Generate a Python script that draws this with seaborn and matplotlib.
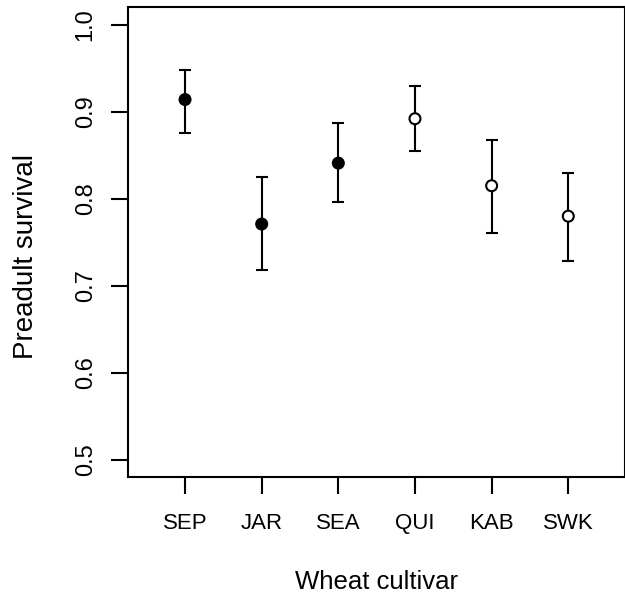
import numpy as np
import pandas as pd
import matplotlib
matplotlib.use("Agg")
import matplotlib.pyplot as plt
import seaborn as sns

# ---- data ----
cultivars = ["SEP", "JAR", "SEA", "QUI", "KAB", "SWK"]
survival = [0.914, 0.771, 0.841, 0.892, 0.815, 0.780]
lower = [0.876, 0.718, 0.796, 0.855, 0.761, 0.729]
upper = [0.948, 0.825, 0.887, 0.930, 0.868, 0.830]
marker_fill = ["filled", "filled", "filled", "open", "open", "open"]
y_ticks = [0.5, 0.6, 0.7, 0.8, 0.9, 1.0]
y_tick_labels = ["0.5", "0.6", "0.7", "0.8", "0.9", "1.0"]

sns.set_style("ticks")
plt.rcParams["font.family"] = ["Liberation Sans", "DejaVu Sans"]
plt.rcParams["text.color"] = "black"
plt.rcParams["axes.labelcolor"] = "black"
plt.rcParams["xtick.color"] = "black"
plt.rcParams["ytick.color"] = "black"
plt.rcParams["xtick.labelcolor"] = "black"
plt.rcParams["ytick.labelcolor"] = "black"

df = pd.DataFrame({
    "cultivar": cultivars,
    "survival": survival,
    "lower": lower,
    "upper": upper,
    "fill": marker_fill,
})

fig = plt.figure(figsize=(6.25, 5.98), dpi=100)
ax = fig.add_axes([0.2053, 0.2018, 0.7947, 0.7860])

sns.scatterplot(data=df, x="cultivar", y="survival", hue="fill",
                palette={"filled": "black", "open": "white"},
                edgecolor="black", linewidth=1.5, s=62, marker="o",
                legend=False, zorder=3, ax=ax)

yerr = np.vstack([df["survival"] - df["lower"], df["upper"] - df["survival"]])
ax.errorbar(df["cultivar"], df["survival"], yerr=yerr, fmt="none",
            ecolor="black", elinewidth=1.5, capsize=4.3, capthick=1.5, zorder=2)

ax.set_xlim(-0.74, 5.74)
ax.set_ylim(0.48, 1.02)
ax.set_yticks(y_ticks)
ax.set_yticklabels(y_tick_labels)

for sp in ax.spines.values():
    sp.set_visible(True)
    sp.set_linewidth(1.5)
    sp.set_color("black")

ax.tick_params(axis="both", direction="out", length=12, width=1.5,
               color="black", labelcolor="black")
ax.tick_params(axis="x", labelsize=16, pad=13.5)
ax.tick_params(axis="y", labelsize=17, pad=10.8, labelrotation=90)
for lab in ax.get_yticklabels():
    lab.set_verticalalignment("center")

ax.set_xlabel("Wheat cultivar", fontsize=18.5, color="black")
ax.set_ylabel("Preadult survival", fontsize=20, color="black")
ax.xaxis.set_label_coords(0.5, -0.1966)
ax.yaxis.set_label_coords(-0.18, 0.47)

fig.savefig("out.png", dpi=100)
